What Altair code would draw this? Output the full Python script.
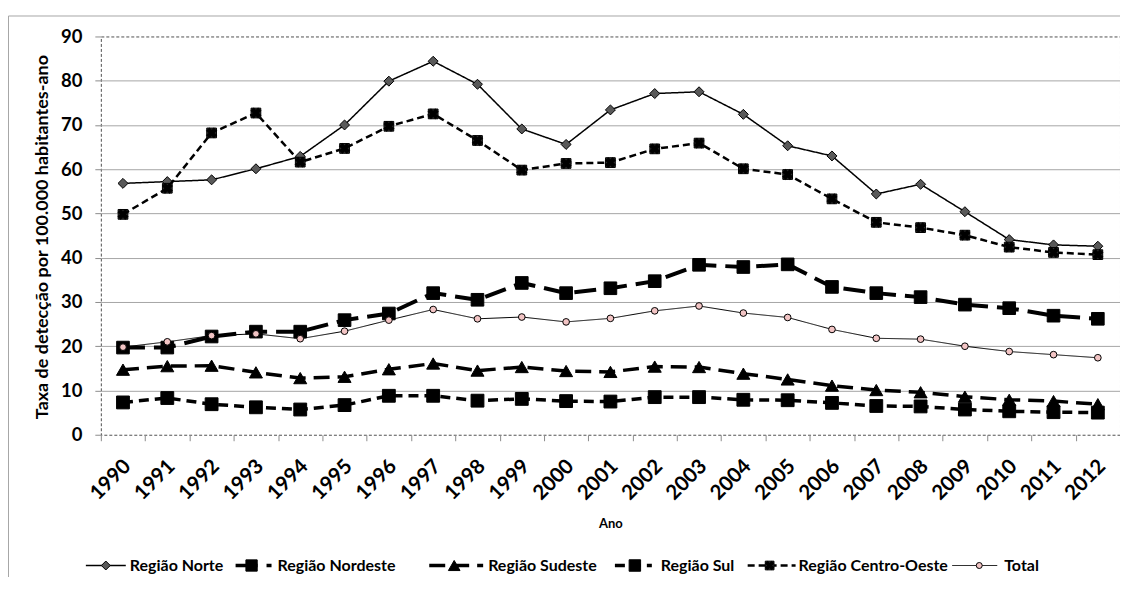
import altair as alt
import pandas as pd

years = [str(y) for y in range(1990, 2013)]

norte = [56.8, 57.2, 57.6, 60.1, 62.9, 70.0, 79.9, 84.4, 79.2, 69.1, 65.6, 73.4,
         77.1, 77.5, 72.4, 65.3, 63.0, 54.4, 56.6, 50.4, 44.1, 42.9, 42.6]
nordeste = [19.7, 19.7, 22.2, 23.3, 23.3, 25.9, 27.4, 32.0, 30.5, 34.3, 32.0, 33.1,
            34.7, 38.4, 37.9, 38.5, 33.4, 32.0, 31.1, 29.4, 28.6, 26.9, 26.2]
sudeste = [14.7, 15.5, 15.6, 14.1, 12.8, 13.1, 14.8, 16.1, 14.5, 15.3, 14.4, 14.2,
           15.4, 15.3, 13.8, 12.5, 11.1, 10.1, 9.6, 8.6, 7.9, 7.6, 6.9]
sul = [7.3, 8.3, 6.9, 6.2, 5.7, 6.7, 8.8, 8.8, 7.7, 8.1, 7.6, 7.5,
       8.5, 8.5, 7.9, 7.8, 7.2, 6.5, 6.4, 5.7, 5.3, 5.1, 5.0]
centro_oeste = [49.8, 55.7, 68.2, 72.7, 61.6, 64.7, 69.7, 72.5, 66.5, 59.8, 61.3, 61.5,
                64.6, 65.9, 60.1, 58.8, 53.3, 48.0, 46.8, 45.1, 42.4, 41.2, 40.7]
total = [19.8, 21.0, 22.4, 22.8, 21.7, 23.4, 25.9, 28.3, 26.2, 26.6, 25.5, 26.3,
         28.0, 29.1, 27.5, 26.5, 23.8, 21.8, 21.6, 20.0, 18.8, 18.1, 17.4]

series_names = ["Região Norte", "Região Nordeste", "Região Sudeste",
                "Região Sul", "Região Centro-Oeste", "Total"]
series_values = [norte, nordeste, sudeste, sul, centro_oeste, total]

rows = []
for name, vals in zip(series_names, series_values):
    for yr, v in zip(years, vals):
        rows.append({"ano": yr, "serie": name, "taxa": v})
df = pd.DataFrame(rows)

FONT = "Lato"

styles = {
    "Região Norte": dict(sw=1.5, dash=[1, 0], shape="diamond", size=100, fill="#595959",
                         lx=(-15, 25), mx=5, tx=29),
    "Região Nordeste": dict(sw=4, dash=[22, 9], shape="square", size=160, fill="#000000",
                            lx=(135, 171), mx=151, tx=177),
    "Região Sudeste": dict(sw=3.5, dash=[16, 8], shape="triangle-up", size=170, fill="#000000",
                           lx=(329, 383), mx=354, tx=388),
    "Região Sul": dict(sw=3.5, dash=[10, 6], shape="square", size=165, fill="#000000",
                       lx=(515, 552), mx=535, tx=561),
    "Região Centro-Oeste": dict(sw=2.5, dash=[7, 4], shape="square", size=95, fill="#333333",
                                lx=(648, 696), mx=670, tx=699),
    "Total": dict(sw=1, dash=[1, 0], shape="circle", size=45, fill="#F2C4C4",
                  lx=(853, 898), mx=880, tx=905),
}

x_enc = alt.X(
    "ano:O",
    bandPosition=0.5,
    scale=alt.Scale(type="band", domain=years, paddingInner=0, paddingOuter=0),
    axis=alt.Axis(
        title="Ano", titleFont=FONT, titleFontSize=13, titleFontWeight="bold",
        titleColor="#000000", titleX=510.5, titleY=93, titleBaseline="alphabetic",
        labelAngle=-45, labelAlign="right", labelBaseline="top",
        labelFont=FONT, labelFontSize=20.5, labelFontWeight="bold", labelColor="#000000",
        labelPadding=15, labelOffset=-3,
        tickBand="extent", ticks=True, tickSize=6, tickColor="#8C8C8C",
        domain=False, grid=False,
    ),
)
y_enc = alt.Y(
    "taxa:Q",
    scale=alt.Scale(domain=[0, 90], nice=False, zero=True),
    axis=alt.Axis(
        title="Taxa de detecção por 100.000 habitantes-ano",
        titleFont=FONT, titleFontSize=18, titleFontWeight="bold", titleColor="#000000",
        titleX=-58, titleY=200.5, titleBaseline="middle", titleAlign="center",
        values=list(range(0, 91, 10)),
        labelFont=FONT, labelFontSize=18.5, labelFontWeight="bold", labelColor="#000000",
        labelPadding=13, tickSize=6, tickColor="#8C8C8C",
        domain=False, grid=True, gridColor="#A6A6A6", gridWidth=1,
        gridOpacity={"condition": {"test": "datum.value == 0 || datum.value == 90", "value": 0},
                     "value": 1},
    ),
)

dummy = pd.DataFrame({"k": [0]})

layers = []

# outer chart-area frame
layers.append(
    alt.Chart(dummy).mark_rect(fillOpacity=0, stroke="#A6A6A6", strokeWidth=1).encode(
        x=alt.value(-92.5), x2=alt.value(1100), y=alt.value(-20.5), y2=alt.value(700)
    )
)

base = alt.Chart(df)
for name in series_names:
    s = styles[name]
    sub = base.transform_filter(alt.datum.serie == name)
    layers.append(
        sub.mark_line(color="#000000", strokeWidth=s["sw"], strokeDash=s["dash"]).encode(
            x=x_enc, y=y_enc
        )
    )
    layers.append(
        sub.mark_point(shape=s["shape"], size=s["size"], filled=True, fill=s["fill"],
                       stroke="#000000", strokeWidth=1, opacity=1).encode(x=x_enc, y=y_enc)
    )
    if name == "Região Centro-Oeste":
        layers.append(
            sub.mark_point(shape="cross", size=110, angle=45, filled=True, fill="#000000",
                           stroke="#000000", strokeWidth=0.5, opacity=1).encode(x=x_enc, y=y_enc)
        )

# legend
LY = 530
for name in series_names:
    s = styles[name]
    layers.append(
        alt.Chart(dummy).mark_rule(color="#000000", strokeWidth=min(s["sw"], 3.5),
                                   strokeDash=s["dash"]).encode(
            x=alt.value(s["lx"][0]), x2=alt.value(s["lx"][1]), y=alt.value(LY)
        )
    )
    layers.append(
        alt.Chart(dummy).mark_point(shape=s["shape"], size=s["size"] * 0.8, filled=True,
                                    fill=s["fill"], stroke="#000000", strokeWidth=1,
                                    opacity=1).encode(
            x=alt.value(s["mx"]), y=alt.value(LY)
        )
    )
    if name == "Região Centro-Oeste":
        layers.append(
            alt.Chart(dummy).mark_point(shape="cross", size=90, angle=45, filled=True,
                                        fill="#000000", opacity=1).encode(
                x=alt.value(s["mx"]), y=alt.value(LY)
            )
        )
    layers.append(
        alt.Chart(dummy).mark_text(align="left", baseline="middle", font=FONT,
                                   fontWeight="bold", fontSize=16, color="#000000").encode(
            x=alt.value(s["tx"]), y=alt.value(LY), text=alt.value(name)
        )
    )

chart = alt.layer(*layers).properties(
    width=1021,
    height=399,
    autosize=alt.AutoSizeParams(type="none"),
    padding={"left": 93, "top": 28, "right": 0, "bottom": 142},
    background="#FFFFFF",
).configure_view(
    stroke="#505050", strokeDash=[3, 2], strokeWidth=1
)

chart.save("out.html", embed_options={"renderer": "svg", "actions": False})
